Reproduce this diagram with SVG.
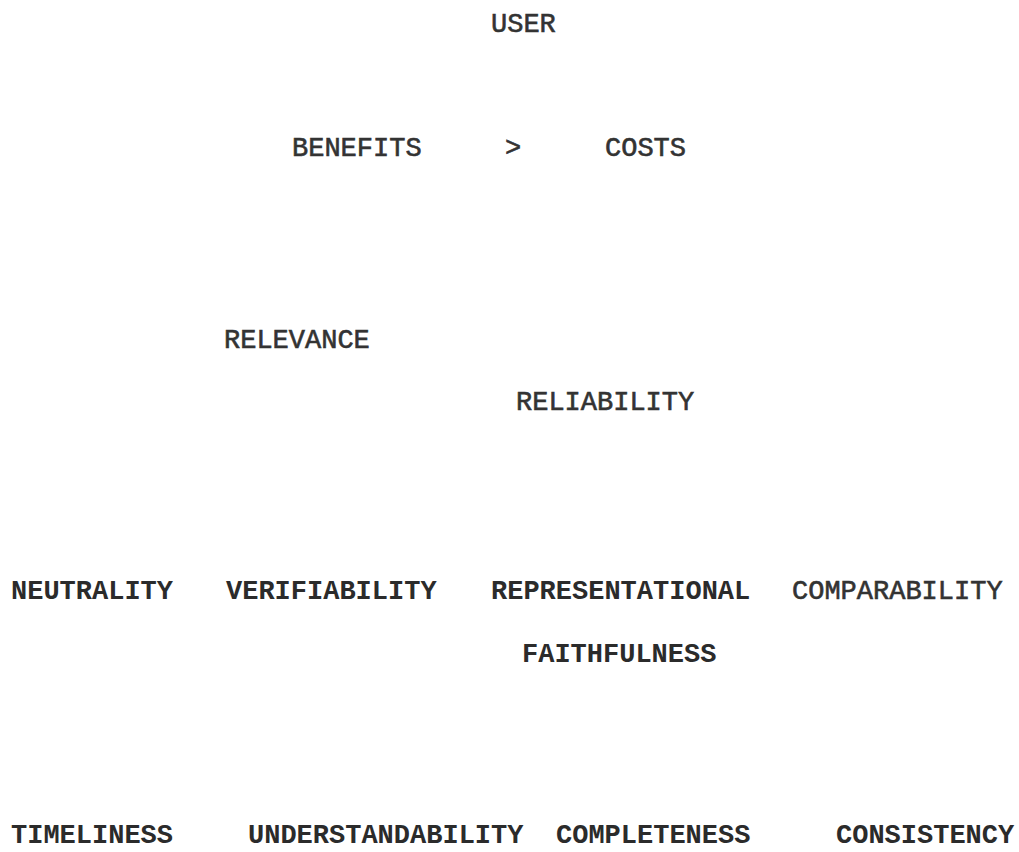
<svg xmlns="http://www.w3.org/2000/svg" width="1019" height="852" viewBox="0 0 1019 852">
  <style>
    .lbl { font-family: "Liberation Mono", "Courier New", monospace; font-size: 27px; font-weight: bold; fill: #2b2b2b; }
    .lt { font-weight: normal; fill: #333333; stroke: #333333; stroke-width: 0.6px; }
  </style>
  <rect x="0" y="0" width="1019" height="852" fill="#ffffff"/>
  <g id="connectors"/>
  <g id="user"><text class="lbl lt" x="491" y="32">USER</text></g>
  <g id="benefits"><text class="lbl lt" x="292" y="156">BENEFITS</text></g>
  <g id="gt"><text class="lbl lt" x="505" y="156">&gt;</text></g>
  <g id="costs"><text class="lbl lt" x="605" y="156">COSTS</text></g>
  <g id="relevance"><text class="lbl lt" x="224" y="348">RELEVANCE</text></g>
  <g id="reliability"><text class="lbl lt" x="516" y="410">RELIABILITY</text></g>
  <g id="neutrality"><text class="lbl" x="11" y="599">NEUTRALITY</text></g>
  <g id="verifiability"><text class="lbl" x="226" y="599">VERIFIABILITY</text></g>
  <g id="representational-faithfulness">
    <text class="lbl" x="491" y="599">REPRESENTATIONAL</text>
    <text class="lbl" x="522" y="662">FAITHFULNESS</text>
  </g>
  <g id="comparability"><text class="lbl lt" x="792" y="599">COMPARABILITY</text></g>
  <g id="timeliness"><text class="lbl" x="11" y="843">TIMELINESS</text></g>
  <g id="understandability"><text class="lbl" x="248" y="843">UNDERSTANDABILITY</text></g>
  <g id="completeness"><text class="lbl" x="556" y="843">COMPLETENESS</text></g>
  <g id="consistency"><text class="lbl" x="836" y="843">CONSISTENCY</text></g>
</svg>
